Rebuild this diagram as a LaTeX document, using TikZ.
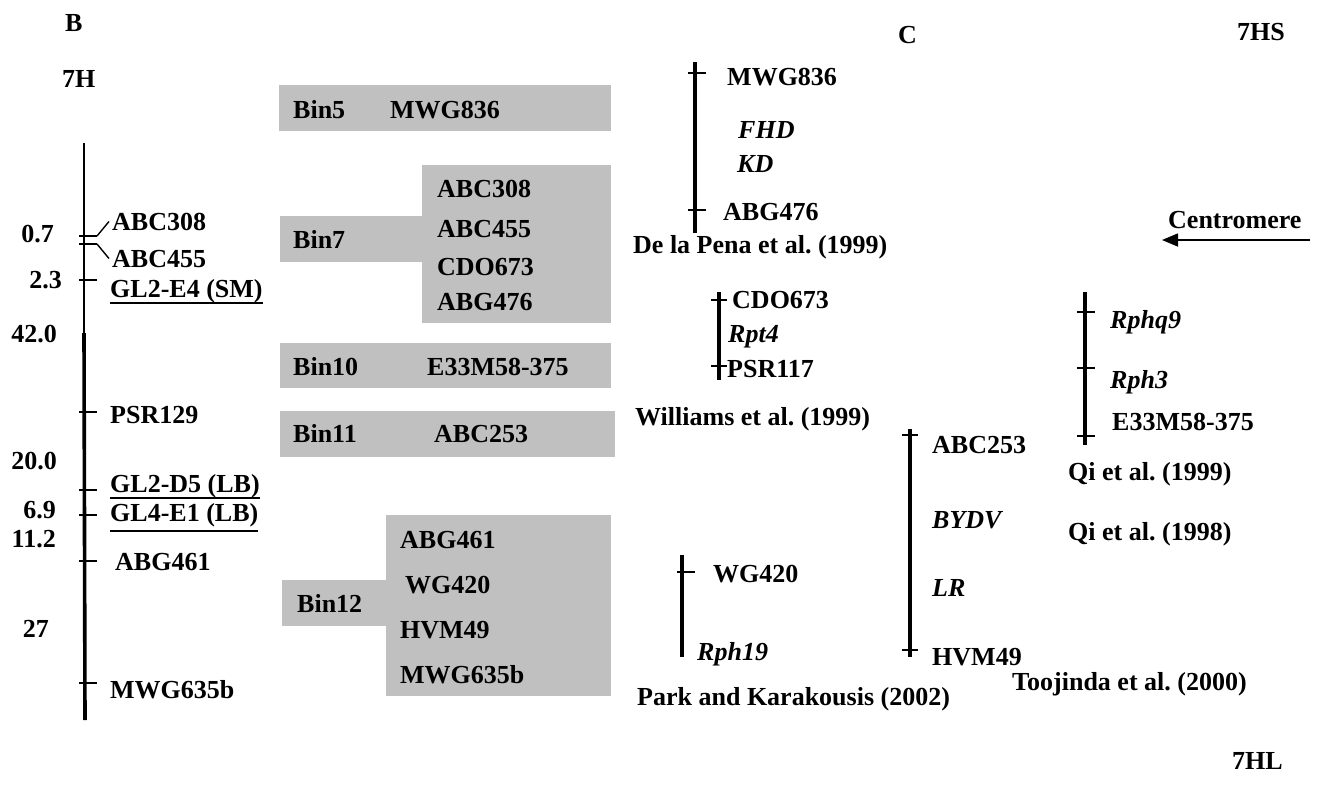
\documentclass[tikz,border=0pt]{standalone}
\usepackage{fontspec}
\setmainfont{Liberation Serif}
\usepackage{tikz}
\usetikzlibrary{arrows.meta, positioning}
\definecolor{bingray}{RGB}{192,192,192}
\frenchspacing

\begin{document}
\begin{tikzpicture}[x=1pt, y=-1pt]
            \tikzstyle{lbl} = [inner sep=0pt, anchor=base west, font=\fontsize{26}{30}\selectfont\bfseries]
            \tikzstyle{num} = [lbl, anchor=base east]
            \tikzstyle{gene} = [lbl, font=\fontsize{26}{30}\selectfont\bfseries\itshape]
            \tikzstyle{chrom} = [line width=3.3pt]
            \tikzstyle{mtick} = [line width=1.4pt]
            \tikzstyle{uline} = [line width=2.2pt]
            \tikzstyle{bin} = [fill=bingray]

            \useasboundingbox (0,0) rectangle (1326,804);

            % B: linkage map of 7H
            \node[lbl] (pB) at (65,31) {B};
            \node[lbl] (h7) at (62,87) {7H};
            \coordinate (mtop) at (84,143);
            \coordinate (mmid) at (84,333);
            \coordinate (mbot) at (85,720);
            \draw[line width=2.2pt] (mtop) -- (mmid);
            \draw[line width=3.6pt] (mmid) -- (mbot);
            \foreach \y in {236,244,280,412,490,515,561,683}
                \draw[mtick] (79,\y) -- (97,\y);

            \node[num] (d07) at (54,242) {0.7};
            \node[num] (d23) at (62,288) {2.3};
            \node[num] (d420) at (57,342) {42.0};
            \node[num] (d200) at (57,469) {20.0};
            \node[num] (d69) at (56,518) {6.9};
            \node[num] (d112) at (56,547) {11.2};
            \node[num] (d27) at (49,637) {27};

            \node[lbl] (abc308) at (112,230) {ABC308};
            \node[lbl] (abc455) at (112,267) {ABC455};
            \node[lbl] (gl2e4) at (110,297) {GL2-E4 (SM)};
            \node[lbl] (psr129) at (110,423) {PSR129};
            \node[lbl] (gl2d5) at (110,492) {GL2-D5 (LB)};
            \node[lbl] (gl4e1) at (110,521) {GL4-E1 (LB)};
            \node[lbl] (abg461) at (115,570) {ABG461};
            \node[lbl] (mwg635b) at (110,698) {MWG635b};

            \coordinate (t308) at (97,236);
            \coordinate (t455) at (97,244);
            \draw[mtick] (t308) -- ([xshift=-3pt]abc308.west);
            \draw[mtick] (t455) -- ([xshift=-3pt]abc455.west);
            \draw[uline] (gl2e4.south west) -- (gl2e4.south east);
            \draw[uline] (gl2d5.south west) -- (gl2d5.south east);
            \draw[uline] ([yshift=-4pt]gl4e1.south west) -- ([yshift=-4pt]gl4e1.south east);

            % bins
            \fill[bin] (279,85) rectangle (611,131);
            \node[lbl] (bin5) at (293,118) {Bin5};
            \node[lbl] (bin5a) at (390,118) {MWG836};

            \fill[bin] (280,216) rectangle (422,262);
            \fill[bin] (422,165) rectangle (611,323);
            \node[lbl] (bin7) at (293,248) {Bin7};
            \node[lbl] (bin7a) at (437,197) {ABC308};
            \node[lbl] (bin7b) at (437,237) {ABC455};
            \node[lbl] (bin7c) at (437,275) {CDO673};
            \node[lbl] (bin7d) at (437,310) {ABG476};

            \fill[bin] (280,343) rectangle (611,388);
            \node[lbl] (bin10) at (293,375) {Bin10};
            \node[lbl] (bin10a) at (427,375) {E33M58-375};

            \fill[bin] (280,411) rectangle (615,457);
            \node[lbl] (bin11) at (293,442) {Bin11};
            \node[lbl] (bin11a) at (434,442) {ABC253};

            \fill[bin] (282,580) rectangle (390,626);
            \fill[bin] (386,515) rectangle (611,696);
            \node[lbl] (bin12) at (297,612) {Bin12};
            \node[lbl] (bin12a) at (400,548) {ABG461};
            \node[lbl] (bin12b) at (405,593) {WG420};
            \node[lbl] (bin12c) at (400,638) {HVM49};
            \node[lbl] (bin12d) at (400,683) {MWG635b};

            % C: published maps
            \node[lbl] (pC) at (898,43) {C};
            \node[lbl] (hs) at (1237,40) {7HS};
            \node[lbl] (hl) at (1232,769) {7HL};

            \coordinate (dtop) at (695,62);
            \coordinate (dbot) at (695,233);
            \draw[chrom] (dtop) -- (dbot);
            \foreach \y in {73,210}
                \draw[mtick] (688,\y) -- (706,\y);
            \node[lbl] (dmwg) at (727,85) {MWG836};
            \node[gene] (dfhd) at (738,138) {FHD};
            \node[gene] (dkd) at (737,172) {KD};
            \node[lbl] (dabg) at (723,220) {ABG476};
            \node[lbl] (dref) at (633,253) {De la Pena et al. (1999)};

            \coordinate (wtop) at (719,292);
            \coordinate (wbot) at (719,380);
            \draw[chrom] (wtop) -- (wbot);
            \foreach \y in {300,366}
                \draw[mtick] (711,\y) -- (727,\y);
            \node[lbl] (wcdo) at (732,308) {CDO673};
            \node[gene] (wrpt) at (728,342) {Rpt4};
            \node[lbl] (wpsr) at (727,377) {PSR117};
            \node[lbl] (wref) at (635,425) {Williams et al. (1999)};

            \coordinate (ptop) at (682,555);
            \coordinate (pbot) at (682,657);
            \draw[chrom] (ptop) -- (pbot);
            \draw[mtick] (677,572) -- (695,572);
            \node[lbl] (pwg) at (713,582) {WG420};
            \node[gene] (prph) at (697,660) {Rph19};
            \node[lbl] (pref) at (637,705) {Park and Karakousis (2002)};

            \coordinate (ttop) at (910,429);
            \coordinate (tbot) at (910,657);
            \draw[chrom] (ttop) -- (tbot);
            \foreach \y in {435,650}
                \draw[mtick] (902,\y) -- (918,\y);
            \node[lbl] (tabc) at (932,453) {ABC253};
            \node[gene] (tbydv) at (932,528) {BYDV};
            \node[gene] (tlr) at (932,596) {LR};
            \node[lbl] (thvm) at (932,665) {HVM49};
            \node[lbl] (tref) at (1012,690) {Toojinda et al. (2000)};

            \coordinate (qtop) at (1085,292);
            \coordinate (qbot) at (1085,445);
            \draw[chrom] (qtop) -- (qbot);
            \foreach \y in {312,368,436}
                \draw[mtick] (1077,\y) -- (1095,\y);
            \node[gene] (qrphq) at (1110,328) {Rphq9};
            \node[gene] (qrph) at (1110,388) {Rph3};
            \node[lbl] (qe33) at (1112,430) {E33M58-375};
            \node[lbl] (qref1) at (1068,480) {Qi et al. (1999)};
            \node[lbl] (qref2) at (1068,540) {Qi et al. (1998)};

            \node[lbl] (centro) at (1168,228) {Centromere};
            \coordinate (cenR) at (1310,240);
            \coordinate (cenL) at (1162,240);
            \draw[line width=1.6pt, -{Triangle[length=16pt, width=13pt]}] (cenR) -- (cenL);
        \end{tikzpicture}
\end{document}
